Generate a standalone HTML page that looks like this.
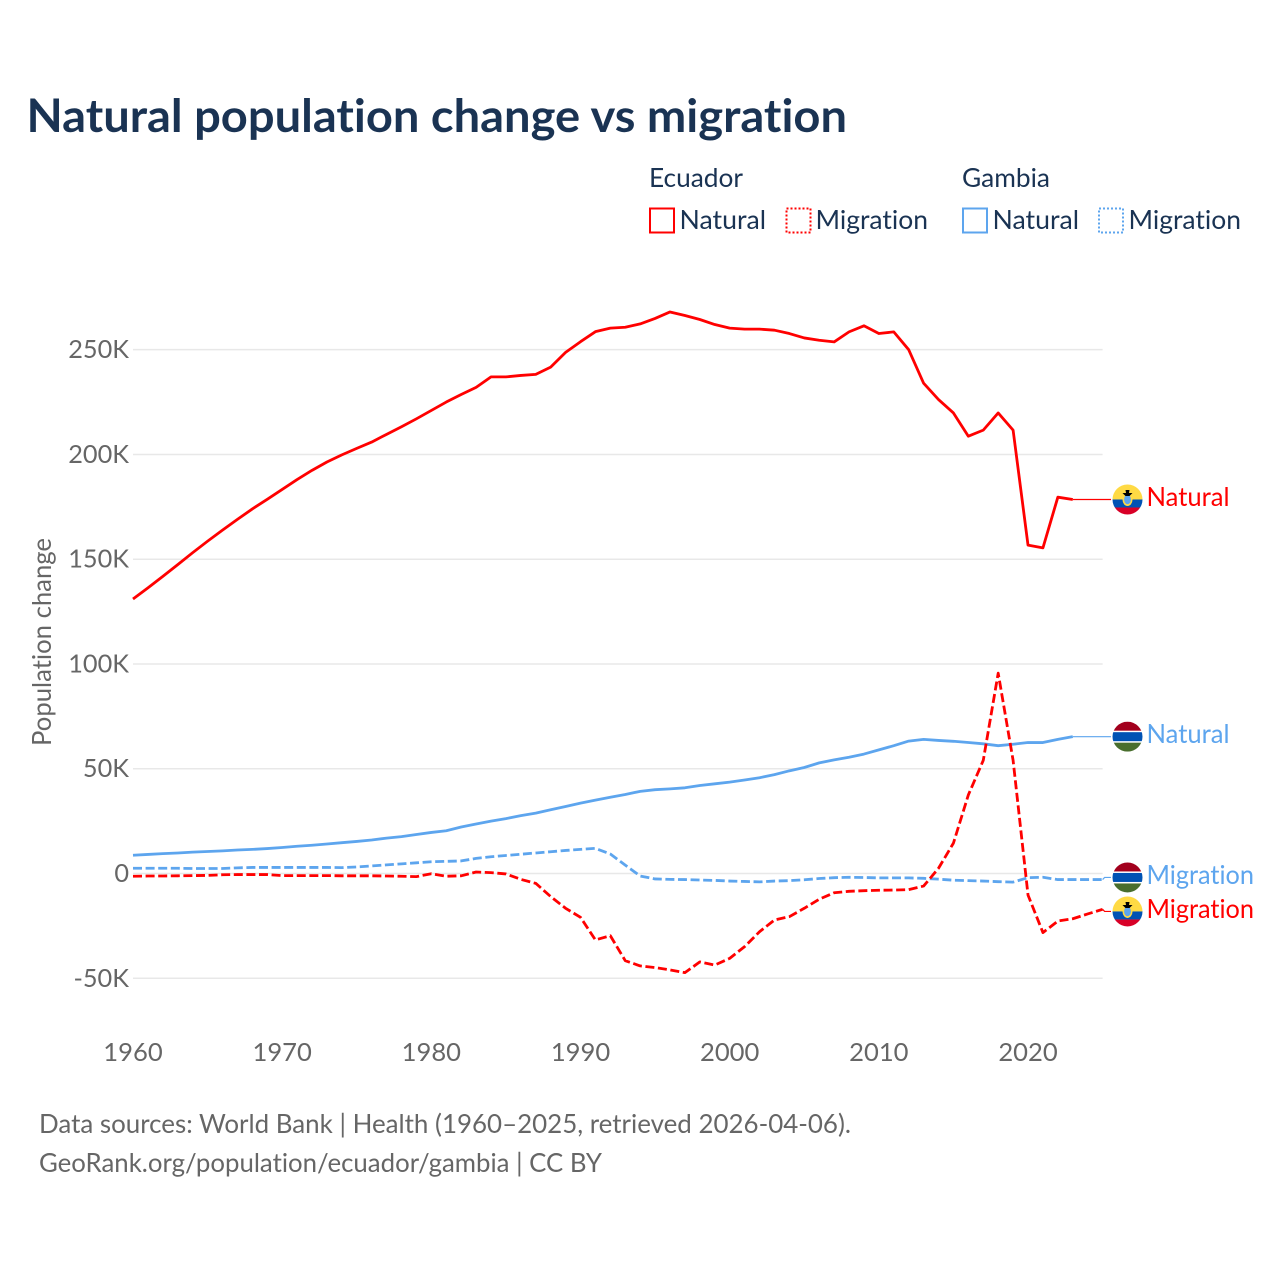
<!DOCTYPE html>
<html lang="en">
<head>
<meta charset="utf-8">
<title>Natural population change vs migration</title>
<style>
html,body{margin:0;padding:0;background:#fff;width:1280px;height:1280px;overflow:hidden}
svg{display:block}
text{font-family:"Lato","Carlito","Liberation Sans",sans-serif;font-variant-ligatures:none;font-feature-settings:"liga" 0,"clig" 0}
</style>
</head>
<body>
<svg id="chart" xmlns="http://www.w3.org/2000/svg" width="1280" height="1280" viewBox="0 0 1280 1280">
  <defs>
    <clipPath id="flag-clip"><circle cx="0" cy="0" r="15"/></clipPath>
  </defs>
  <rect x="0" y="0" width="1280" height="1280" fill="#fff"/>
  <text x="26.5" y="132" font-size="46" font-weight="700" fill="#1a3353" textLength="820.5" lengthAdjust="spacingAndGlyphs">Natural population change vs migration</text>

  <g font-size="26" fill="#1a3353">
    <text x="649" y="187" textLength="94" lengthAdjust="spacingAndGlyphs">Ecuador</text>
    <text x="962" y="187" textLength="88" lengthAdjust="spacingAndGlyphs">Gambia</text>
    <g>
      <rect x="650" y="208.5" width="24" height="24" fill="none" stroke="#ff0000" stroke-width="2"/>
      <text x="679.5" y="229" textLength="86.5" lengthAdjust="spacingAndGlyphs">Natural</text>
    </g>
    <g>
      <rect x="786.5" y="208.5" width="24" height="24" fill="none" stroke="#ff0000" stroke-width="2" stroke-dasharray="2 2"/>
      <text x="815.5" y="229" textLength="112.5" lengthAdjust="spacingAndGlyphs">Migration</text>
    </g>
    <g>
      <rect x="963" y="208.5" width="24" height="24" fill="none" stroke="#5da5ee" stroke-width="2"/>
      <text x="992.5" y="229" textLength="86.5" lengthAdjust="spacingAndGlyphs">Natural</text>
    </g>
    <g>
      <rect x="1099" y="208.5" width="24" height="24" fill="none" stroke="#5da5ee" stroke-width="2" stroke-dasharray="2 2"/>
      <text x="1128.5" y="229" textLength="112.5" lengthAdjust="spacingAndGlyphs">Migration</text>
    </g>
  </g>

  <g id="grid"></g>
  <g id="y-ticks"></g>
  <g id="x-ticks"></g>
  <text transform="translate(51,642) rotate(-90)" text-anchor="middle" font-size="26" fill="#666" textLength="208" lengthAdjust="spacingAndGlyphs">Population change</text>
  <g id="series"></g>
  <g id="end-labels"></g>

  <g font-size="26" fill="#666">
    <text x="39" y="1133" textLength="812" lengthAdjust="spacingAndGlyphs">Data sources: World Bank | Health (1960–2025, retrieved 2026-04-06).</text>
    <text x="39" y="1172" textLength="563" lengthAdjust="spacingAndGlyphs">GeoRank.org/population/ecuador/gambia | CC BY</text>
  </g>
</svg>
<script>
const startYear = 1960;
const yTickValues = [-50, 0, 50, 100, 150, 200, 250];
const yTickLabels = ['-50K', '0', '50K', '100K', '150K', '200K', '250K'];
const xTickValues = [1960, 1970, 1980, 1990, 2000, 2010, 2020];
const xTickLabels = ['1960', '1970', '1980', '1990', '2000', '2010', '2020'];

const ecuadorNatural = [131, 136.3, 141.8, 147.4, 153.1, 158.6, 163.9, 169, 174, 178.6,
  183.3, 188, 192.4, 196.4, 199.8, 202.9, 205.9, 209.6, 213.2, 217,
  221, 225, 228.6, 232, 237, 237, 237.7, 238.2, 241.7, 248.7,
  253.8, 258.6, 260.3, 260.7, 262.3, 264.9, 268, 266.3, 264.4, 262,
  260.3, 259.8, 259.8, 259.3, 257.7, 255.6, 254.5, 253.7, 258.5, 261.4,
  257.7, 258.5, 250, 234, 226.2, 219.8, 208.7, 211.6, 219.8, 211.6,
  156.7, 155.4, 179.6, 178.5];
const ecuadorMigration = [-1.3, -1.2, -1.2, -1.1, -1, -0.9, -0.6, -0.5, -0.5, -0.5,
  -1, -1, -1, -1, -1.1, -1.1, -1.1, -1.2, -1.3, -1.5,
  -0.1, -1.3, -1.1, 0.7, 0.4, -0.2, -2.8, -4.7, -11, -16.6,
  -20.9, -31.7, -29.7, -41.6, -44.1, -44.9, -46, -47.3, -42.2, -43.7,
  -40.5, -34.9, -27.8, -22.2, -20.6, -16.6, -12.3, -9.2, -8.5, -8.2,
  -8, -7.9, -7.7, -6, 2.5, 14.5, 37.5, 54, 95.6, 54,
  -10.3, -28.2, -22.7, -21.6, -19.3, -17.1];
const gambiaNatural = [8.7, 9.1, 9.5, 9.8, 10.2, 10.5, 10.8, 11.2, 11.5, 11.9,
  12.4, 13, 13.5, 14.1, 14.7, 15.3, 16, 16.9, 17.6, 18.6,
  19.6, 20.4, 22.2, 23.6, 25, 26.2, 27.6, 28.8, 30.4, 32,
  33.6, 35, 36.4, 37.7, 39.2, 40, 40.4, 40.9, 42, 42.8,
  43.6, 44.6, 45.7, 47.2, 49, 50.6, 52.8, 54.2, 55.5, 57,
  59, 61, 63.2, 64, 63.5, 63.1, 62.5, 61.9, 61, 61.7,
  62.5, 62.5, 64, 65.3];
const gambiaMigration = [2.5, 2.5, 2.5, 2.5, 2.4, 2.4, 2.4, 2.7, 2.9, 2.9,
  2.9, 2.9, 2.9, 2.9, 2.8, 3.1, 3.6, 4.1, 4.6, 5.1,
  5.6, 5.8, 6, 7.2, 8, 8.6, 9.2, 9.8, 10.4, 11,
  11.5, 12, 9.3, 4, -1.2, -2.6, -2.8, -2.9, -3.1, -3.3,
  -3.6, -3.8, -4, -3.6, -3.4, -3, -2.4, -2, -1.8, -1.9,
  -2.1, -2.1, -2.1, -2.3, -2.7, -3.2, -3.4, -3.6, -3.9, -4.1,
  -2, -1.8, -2.9, -2.9, -2.9, -2.9];

const SVG_NS = 'http://www.w3.org/2000/svg';
const RED = '#ff0000';
const BLUE = '#5da5ee';
const x = function (year) { return 133 + (year - 1960) * 14.917; };
const y = function (value) { return 873.5 - value * 2.0953; };
const make = function (tag, parent) {
  const el = document.createElementNS(SVG_NS, tag);
  parent.appendChild(el);
  return el;
};

const gridLayer = document.getElementById('grid');
const yTickLayer = document.getElementById('y-ticks');
yTickValues.forEach(function (v, i) {
  const line = make('line', gridLayer);
  
  
  line.setAttribute('x1', x(startYear));
  line.setAttribute('x2', x(2025));
  line.setAttribute('y1', y(v));
  line.setAttribute('y2', y(v));
  line.setAttribute('stroke', '#e8e8e8');
  line.setAttribute('stroke-width', '1.5');
  const t = make('text', yTickLayer);
  
  
  t.setAttribute('x', 129);
  t.setAttribute('y', y(v) + 8.5);
  t.setAttribute('text-anchor', 'end');
  t.setAttribute('font-size', '25.3');
  t.setAttribute('fill', '#666');
  t.textContent = yTickLabels[i];
});

const xTickLayer = document.getElementById('x-ticks');
xTickValues.forEach(function (v, i) {
  const t = make('text', xTickLayer);
  
  
  t.setAttribute('x', x(v));
  t.setAttribute('y', 1061);
  t.setAttribute('text-anchor', 'middle');
  t.setAttribute('font-size', '25.6');
  t.setAttribute('fill', '#666');
  t.textContent = xTickLabels[i];
});

const seriesList = [
  { key: 'gambia-migration', values: gambiaMigration, color: BLUE, dashed: true, label: 'Migration', country: 'gambia' },
  { key: 'gambia-natural', values: gambiaNatural, color: BLUE, dashed: false, label: 'Natural', country: 'gambia' },
  { key: 'ecuador-migration', values: ecuadorMigration, color: RED, dashed: true, label: 'Migration', country: 'ecuador' },
  { key: 'ecuador-natural', values: ecuadorNatural, color: RED, dashed: false, label: 'Natural', country: 'ecuador' }
];

const seriesLayer = document.getElementById('series');
seriesList.forEach(function (s) {
  const d = s.values.map(function (v, i) {
    return (i ? 'L' : 'M') + x(startYear + i).toFixed(2) + ' ' + y(v).toFixed(2);
  }).join(' ');
  const path = make('path', seriesLayer);
  
  
  path.setAttribute('d', d);
  path.setAttribute('fill', 'none');
  path.setAttribute('stroke', s.color);
  path.setAttribute('stroke-width', '2.8');
  path.setAttribute('stroke-linejoin', 'round');
  if (s.dashed) {
    path.setAttribute('stroke-dasharray', '9 3.6');
  }
});

/* end labels: pushed apart when two series finish too close to one another */
const minGap = 34;
const ends = seriesList.map(function (s) {
  const last = s.values[s.values.length - 1];
  return {
    s: s,
    endX: x(startYear + s.values.length - 1),
    endY: y(last),
    labelY: y(last)
  };
}).sort(function (a, b) { return a.endY - b.endY; });
for (let i = 1; i < ends.length; i++) {
  const gap = ends[i].labelY - ends[i - 1].labelY;
  if (gap < minGap) {
    const shift = (minGap - gap) / 2;
    ends[i - 1].labelY -= shift;
    ends[i].labelY += shift;
  }
}

const labelLayer = document.getElementById('end-labels');
const drawEcuadorFlag = function (g) {
  const stripes = [[-15, 15, '#ffda44'], [0, 8, '#0052b4'], [8, 7, '#d80027']];
  stripes.forEach(function (st) {
    const r = make('rect', g);
    
    
    r.setAttribute('x', -15);
    r.setAttribute('y', st[0]);
    r.setAttribute('width', 30);
    r.setAttribute('height', st[1]);
    r.setAttribute('fill', st[2]);
  });
  const ring = make('ellipse', g);
  
  
  ring.setAttribute('cx', 0);
  ring.setAttribute('cy', 0);
  ring.setAttribute('rx', 5);
  ring.setAttribute('ry', 6.5);
  ring.setAttribute('fill', '#ffda44');
  const shield = make('ellipse', g);
  
  
  shield.setAttribute('cx', 0);
  shield.setAttribute('cy', 0);
  shield.setAttribute('rx', 3.4);
  shield.setAttribute('ry', 4.8);
  shield.setAttribute('fill', '#5da5ee');
  const crest = make('path', g);
  
  
  crest.setAttribute('d', 'M-5 -6.5 L-1.5 -6.5 L-2 -9.5 L2 -9.5 L1.5 -6.5 L5 -6.5 L2 -3.5 L-2 -3.5 Z');
  crest.setAttribute('fill', '#000');
};
const drawGambiaFlag = function (g) {
  const stripes = [[-15, 30, '#fff'], [-15, 9, '#a2001d'], [-4.5, 9, '#0052b4'], [6, 9, '#496e2d']];
  stripes.forEach(function (st) {
    const r = make('rect', g);
    
    
    r.setAttribute('x', -15);
    r.setAttribute('y', st[0]);
    r.setAttribute('width', 30);
    r.setAttribute('height', st[1]);
    r.setAttribute('fill', st[2]);
  });
};

ends.forEach(function (e) {
  const s = e.s;
  const connector = make('path', labelLayer);
  
  
  connector.setAttribute('d', 'M' + e.endX + ' ' + e.endY + ' L' + (e.endX + 2) + ' ' + e.labelY + ' L1111 ' + e.labelY);
  connector.setAttribute('fill', 'none');
  connector.setAttribute('stroke', s.color);
  connector.setAttribute('stroke-width', '1.2');

  const flag = make('g', labelLayer);
  
  
  flag.setAttribute('transform', 'translate(1127.5,' + e.labelY + ')');
  flag.setAttribute('clip-path', 'url(#flag-clip)');
  if (s.country === 'ecuador') {
    drawEcuadorFlag(flag);
  } else {
    drawGambiaFlag(flag);
  }

  const t = make('text', labelLayer);
  
  
  t.setAttribute('x', 1146.5);
  t.setAttribute('y', e.labelY + 6.5);
  t.setAttribute('font-size', '26');
  t.setAttribute('fill', s.color);
  t.setAttribute('textLength', s.label === 'Natural' ? 83 : 107.5);
  t.setAttribute('lengthAdjust', 'spacingAndGlyphs');
  t.textContent = s.label;
});
</script>
</body>
</html>
